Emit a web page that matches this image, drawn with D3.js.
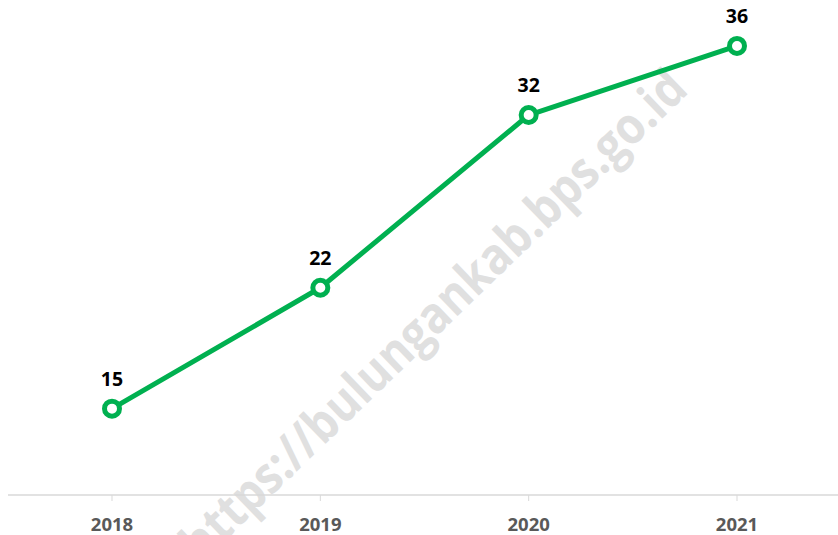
<!DOCTYPE html>
<html><head><meta charset="utf-8">
<script src="https://cdn.jsdelivr.net/npm/d3@7"></script>
<style>html,body{margin:0;padding:0;background:#fff;}svg{display:block;}</style>
</head><body>
<svg id="chart" width="838" height="535"></svg>
<script>
const categories = ["2018", "2019", "2020", "2021"];
const values = [15, 22, 32, 36];
const watermark = "https://bulungankab.bps.go.id";

const svg = d3.select("#chart");
const W = 838, H = 535;

const x = d3.scalePoint().domain(categories).range([112, 737]);
const y = d3.scaleLinear().domain([10, 38.66]).range([495, 0]);

// watermark
const wm = svg.append("text")
  .attr("transform", "translate(436,318) rotate(-44)")
  .attr("text-anchor", "middle")
  .attr("dominant-baseline", "middle")
  .attr("font-family", "Open Sans, sans-serif")
  .attr("font-weight", 700)
  .attr("font-size", 51)
  .attr("fill", "#e0e0e0")
  .text(watermark);
wm.attr("textLength", 680).attr("lengthAdjust", "spacingAndGlyphs");

// axis
const axis = svg.append("g").attr("transform", "translate(0,495)");
axis.append("line").attr("x1", 8).attr("x2", W).attr("y1", 0).attr("y2", 0)
  .attr("stroke", "#d9d9d9").attr("stroke-width", 1.5);
axis.selectAll("line.tick").data(categories).join("line").attr("class", "tick")
  .attr("x1", d => x(d)).attr("x2", d => x(d)).attr("y1", 0).attr("y2", 6)
  .attr("stroke", "#d9d9d9").attr("stroke-width", 1);
axis.selectAll("text").data(categories).join("text")
  .attr("x", d => x(d)).attr("y", 36)
  .attr("text-anchor", "middle")
  .attr("font-family", "Open Sans, sans-serif")
  .attr("font-weight", "bold")
  .attr("font-size", 18.5)
  .attr("fill", "#595959")
  .text(d => d);

const data = categories.map((c, i) => ({c, v: values[i]}));

svg.append("path").datum(data)
  .attr("fill", "none").attr("stroke", "#00b050").attr("stroke-width", 5)
  .attr("stroke-linejoin", "round")
  .attr("d", d3.line().x(d => x(d.c)).y(d => y(d.v)));

svg.selectAll("circle.pt").data(data).join("circle").attr("class", "pt")
  .attr("cx", d => x(d.c)).attr("cy", d => y(d.v)).attr("r", 7.5)
  .attr("fill", "#fff").attr("stroke", "#00b050").attr("stroke-width", 5)

svg.selectAll("text.lbl").data(data).join("text").attr("class", "lbl")
  .attr("x", d => x(d.c)).attr("y", d => y(d.v) - 23)
  .attr("text-anchor", "middle")
  .attr("font-family", "Open Sans, sans-serif")
  .attr("font-weight", "bold")
  .attr("font-size", 19.5)
  .attr("fill", "#000")
  .text(d => d.v);
</script>
</body></html>
